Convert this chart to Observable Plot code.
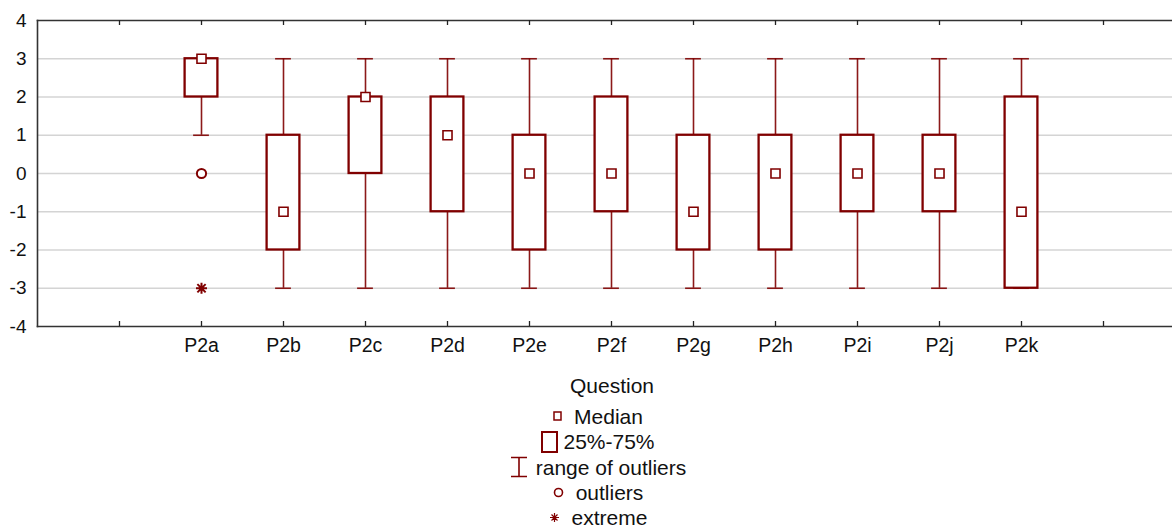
<!DOCTYPE html>
<html>
<head>
<meta charset="utf-8">
<script src="https://cdn.jsdelivr.net/npm/d3@7"></script>
<script src="https://cdn.jsdelivr.net/npm/@observablehq/plot@0.6"></script>
<style>
  html, body { margin: 0; padding: 0; background: #fff; overflow: hidden; width: 1172px; height: 528px; }
  #chart { position: absolute; left: 0; top: 0; width: 1172px; overflow: hidden; }
  #chart svg { max-width: none !important; overflow: hidden; }
  #legend { position: absolute; left: 0; top: 372px; width: 1172px; font-family: "Liberation Sans", Arial, sans-serif; font-size: 21px; color: #111; }
  #legend .title { position: absolute; left: 0; width: 1224px; text-align: center; top: 2px; }
  #legend .rows { position: absolute; left: 0; top: 32px; width: 1196px; text-align: center; }
  #legend .row { height: 25.3px; line-height: 25.3px; white-space: nowrap; }
  #legend svg { vertical-align: middle; position: relative; top: -2px; }
</style>
</head>
<body>
<div id="chart"></div>
<div id="legend"></div>
<script>
const questions = ["P2a","P2b","P2c","P2d","P2e","P2f","P2g","P2h","P2i","P2j","P2k"];
const medians   = [3, -1, 2, 1, 0, 0, -1, 0, 0, 0, -1];
const q1s       = [2, -2, 0, -1, -2, -1, -2, -2, -1, -1, -3];
const q3s       = [3, 1, 2, 2, 1, 2, 1, 1, 1, 1, 2];
const whiskLo   = [1, -3, -3, -3, -3, -3, -3, -3, -3, -3, -3];
const whiskHi   = [3, 3, 3, 3, 3, 3, 3, 3, 3, 3, 3];
const outlierQ  = ["P2a"];
const outlierV  = [0];
const extremeQ  = ["P2a"];
const extremeV  = [-3];
const yTicks    = [-4, -3, -2, -1, 0, 1, 2, 3, 4];
const gridVals  = [-3, -2, -1, 0, 1, 2, 3];
const xDomain   = ["", ...questions, " "];
const legendItems = ["Median", "25%-75%", "range of outliers", "outliers", "extreme"];
const axisTitle = "Question";

const red = "#800000";
const boxes = questions.map((q, i) => ({q, med: medians[i], q1: q1s[i], q3: q3s[i], lo: whiskLo[i], hi: whiskHi[i]}));
const outliers = outlierQ.map((q, i) => ({q, v: outlierV[i]}));
const extremes = extremeQ.map((q, i) => ({q, v: extremeV[i]}));

// asterisk with horizontal, vertical and two diagonal strokes
const star = {
  draw(context, size) {
    const r = Math.sqrt(size / Math.PI);
    const d = r * 0.75;
    context.moveTo(-r, 0); context.lineTo(r, 0);
    context.moveTo(0, -r); context.lineTo(0, r);
    context.moveTo(-d, -d); context.lineTo(d, d);
    context.moveTo(-d, d); context.lineTo(d, -d);
  }
};

const frameStyle = {stroke: "#333", strokeWidth: 1.6};
const chart = Plot.plot({
  width: 1172,
  height: 366,
  marginLeft: 37,
  marginRight: -13,
  marginTop: 20,
  marginBottom: 40,
  style: {fontFamily: "'Liberation Sans', Arial, sans-serif", fontSize: "19px", color: "#111", background: "white", maxWidth: "none", overflow: "hidden"},
  x: {type: "band", domain: xDomain, paddingInner: 0.6, paddingOuter: 0.8, round: false, label: null},
  y: {domain: [-4, 4], ticks: yTicks, label: null},
  marks: [
    Plot.gridY(gridVals, {stroke: "#d4d4d4", strokeOpacity: 1, strokeWidth: 1.6}),
    Plot.ruleX(boxes, {x: "q", y1: "lo", y2: "hi", stroke: red, strokeWidth: 1.6, strokeOpacity: 0.9}),
    Plot.tickY(boxes, {x: "q", y: "lo", stroke: red, strokeWidth: 1.6, strokeOpacity: 0.9, insetLeft: 8.5, insetRight: 8.5}),
    Plot.tickY(boxes, {x: "q", y: "hi", stroke: red, strokeWidth: 1.6, strokeOpacity: 0.9, insetLeft: 8.5, insetRight: 8.5}),
    Plot.barY(boxes, {x: "q", y1: "q1", y2: "q3", fill: "white", stroke: red, strokeWidth: 2.3}),
    Plot.dot(boxes, {x: "q", y: "med", symbol: "square", r: 5.1, fill: "white", stroke: red, strokeWidth: 1.6}),
    Plot.dot(outliers, {x: "q", y: "v", symbol: "circle", r: 4.6, fill: "white", stroke: red, strokeWidth: 2}),
    Plot.dot(extremes, {x: "q", y: "v", symbol: star, r: 5.5, stroke: red, strokeWidth: 2}),
    Plot.frame({anchor: "top", ...frameStyle}),
    Plot.frame({anchor: "left", ...frameStyle}),
    Plot.frame({anchor: "bottom", ...frameStyle}),
    Plot.tickX(xDomain, {x: d => d, stroke: "#222", strokeWidth: 1.3, insetTop: 301}),
    Plot.tickX(xDomain, {x: d => d, stroke: "#222", strokeWidth: 1.3, insetBottom: 301}),
    Plot.axisX({anchor: "bottom", tickSize: 0, tickPadding: 12, fontSize: 19.5, label: null}),
    Plot.axisY({anchor: "left", tickSize: 0, tickPadding: 11, fontSize: 19, ticks: yTicks, tickFormat: d => String(d), label: null})
  ]
});
chart.style.maxWidth = "none";
document.getElementById("chart").appendChild(chart);

// Legend
const legend = document.getElementById("legend");
const title = document.createElement("div");
title.className = "title";
title.textContent = axisTitle;
legend.appendChild(title);
const rows = document.createElement("div");
rows.className = "rows";
legend.appendChild(rows);

const symbols = [
  `<svg width="9" height="10"><rect x="1" y="1" width="7" height="8" fill="white" stroke="${red}" stroke-width="1.5"/></svg>`,
  `<svg width="17" height="22"><rect x="1" y="1" width="15" height="20" fill="white" stroke="${red}" stroke-width="2"/></svg>`,
  `<svg width="18" height="22"><path d="M1,1.5H17M9,1.5V20.5M1,20.5H17" fill="none" stroke="${red}" stroke-width="1.6"/></svg>`,
  `<svg width="11" height="11"><circle cx="5.5" cy="5.5" r="4" fill="white" stroke="${red}" stroke-width="1.6"/></svg>`,
  `<svg width="11" height="11"><path d="M1,5.5H10M5.5,1V10M2.5,2.5L8.5,8.5M2.5,8.5L8.5,2.5" fill="none" stroke="${red}" stroke-width="1.2"/></svg>`
];
const gaps = [12, 5, 8, 12, 12];
legendItems.forEach((label, i) => {
  const row = document.createElement("div");
  row.className = "row";
  row.innerHTML = symbols[i].replace("<svg ", `<svg style="margin-right:${gaps[i]}px" `) + `<span>${label}</span>`;
  rows.appendChild(row);
});
</script>
</body>
</html>
